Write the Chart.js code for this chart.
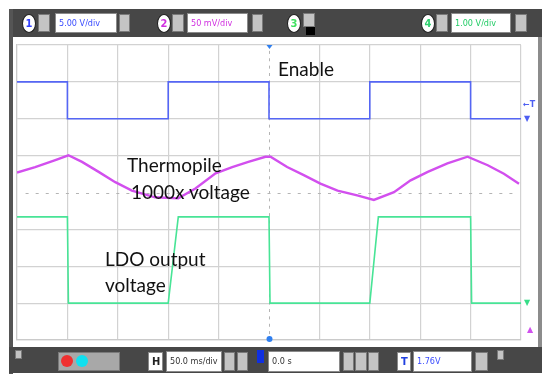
<!DOCTYPE html>
<html>
<head>
<meta charset="utf-8">
<script src="https://cdn.jsdelivr.net/npm/chart.js@4.4.1/dist/chart.umd.min.js"></script>
<style>
  html, body { margin:0; padding:0; background:#fff; }
  #wrap { position:relative; width:542px; height:374px; overflow:hidden; background:#fff; }
  #c { position:absolute; left:0; top:0; z-index:2; }
  .bar { position:absolute; background:#474747; z-index:1; }
  .badge { position:absolute; width:12px; height:17px; border-radius:50%; background:#fff; border:1px solid #1c1c1c;
           font:bold 11px "Liberation Sans Narrow","DejaVu Sans Condensed",sans-serif; text-align:center; line-height:17px; z-index:3; }
  .box { position:absolute; background:#fff; border:1px solid #8a8a8a; z-index:3;
         font:9px "Liberation Sans Narrow","DejaVu Sans Condensed",sans-serif; line-height:18px; padding-left:3px; box-sizing:border-box; white-space:nowrap; }
  .ico { position:absolute; background:#c4c4c4; border:1px solid #7a7a7a; z-index:3; box-sizing:border-box; }
  .note { position:absolute; z-index:4; font:19px Lato,"Open Sans",sans-serif; color:#111; line-height:19px; white-space:nowrap; }
  .mk { position:absolute; z-index:4; font:bold 8px "DejaVu Sans",sans-serif; white-space:nowrap; }
</style>
</head>
<body>
<div id="wrap">
  <!-- oscilloscope frame -->
  <div class="bar" style="left:9px;top:9px;width:533px;height:28px;"></div>
  <div class="bar" style="left:9px;top:9px;width:4px;height:365px;background:#555;"></div>
  <div class="bar" style="left:538px;top:37px;width:4px;height:310px;background:#8c8c8c;"></div>
  <div class="bar" style="left:9px;top:347px;width:533px;height:26px;"></div>

  <!-- top toolbar -->
  <div class="badge" style="left:22px;top:14px;color:#3340ff;">1</div>
  <div class="ico" style="left:38px;top:14px;width:12px;height:18px;"></div>
  <div class="box" style="left:55px;top:13px;width:62px;height:20px;color:#3a4cff;">5.00 V/div</div>
  <div class="ico" style="left:119px;top:14px;width:11px;height:18px;"></div>

  <div class="badge" style="left:157px;top:14px;color:#d030e0;">2</div>
  <div class="ico" style="left:172px;top:14px;width:12px;height:18px;"></div>
  <div class="box" style="left:187px;top:13px;width:61px;height:20px;color:#d030e0;">50 mV/div</div>
  <div class="ico" style="left:252px;top:14px;width:11px;height:18px;"></div>

  <div class="badge" style="left:287px;top:14px;color:#40e060;">3</div>
  <div class="ico" style="left:303px;top:13px;width:12px;height:14px;"></div>
  <div class="ico" style="left:306px;top:27px;width:9px;height:8px;background:#000;border-color:#000;"></div>

  <div class="badge" style="left:421px;top:14px;color:#30d070;">4</div>
  <div class="ico" style="left:436px;top:14px;width:12px;height:18px;"></div>
  <div class="box" style="left:451px;top:13px;width:60px;height:20px;color:#22cc66;">1.00 V/div</div>
  <div class="ico" style="left:515px;top:14px;width:12px;height:18px;"></div>

  <!-- bottom toolbar -->
  <div class="ico" style="left:15px;top:350px;width:7px;height:9px;"></div>
  <div class="ico" style="left:58px;top:352px;width:62px;height:19px;background:#a8a8a8;"></div>
  <div style="position:absolute;z-index:4;left:61px;top:355px;width:12px;height:12px;border-radius:50%;background:#f03030;"></div>
  <div style="position:absolute;z-index:4;left:76px;top:355px;width:12px;height:12px;border-radius:50%;background:#10e0f0;"></div>
  <div class="box" style="left:148px;top:352px;width:15px;height:19px;font-weight:bold;color:#222;font-size:11px;">H</div>
  <div class="box" style="left:166px;top:351px;width:56px;height:21px;color:#333;">50.0 ms/div</div>
  <div class="ico" style="left:224px;top:352px;width:11px;height:19px;"></div>
  <div class="ico" style="left:237px;top:352px;width:11px;height:19px;"></div>
  <div style="position:absolute;z-index:4;left:257px;top:350px;width:7px;height:13px;background:#1030e0;"></div>
  <div class="box" style="left:268px;top:351px;width:72px;height:21px;color:#333;">0.0 s</div>
  <div class="ico" style="left:343px;top:352px;width:11px;height:19px;"></div>
  <div class="ico" style="left:355px;top:352px;width:12px;height:19px;"></div>
  <div class="ico" style="left:368px;top:352px;width:11px;height:19px;"></div>
  <div class="box" style="left:397px;top:352px;width:14px;height:19px;font-weight:bold;color:#2040e0;font-size:11px;">T</div>
  <div class="box" style="left:413px;top:351px;width:59px;height:21px;color:#3a4cff;">1.76V</div>
  <div class="ico" style="left:475px;top:352px;width:13px;height:19px;"></div>
  <div class="ico" style="left:497px;top:350px;width:7px;height:10px;"></div>

  <!-- channel markers -->
  <div class="mk" style="left:523px;top:100px;color:#4d5ef2;">&#8592;T</div>
  <div class="mk" style="left:524px;top:114px;color:#4d5ef2;">&#9660;</div>
  <div class="mk" style="left:524px;top:298px;color:#38dd88;">&#9660;</div>
  <div class="mk" style="left:527px;top:325px;color:#d050ee;">&#9650;</div>

  <!-- annotations -->
  <div class="note" style="left:278px;top:59px;">Enable</div>
  <div class="note" style="left:127px;top:155px;">Thermopile</div>
  <div class="note" style="left:131px;top:182px;">1000x voltage</div>
  <div class="note" style="left:105px;top:249px;">LDO output</div>
  <div class="note" style="left:105px;top:275px;">voltage</div>

  <canvas id="c" width="542" height="374"></canvas>
</div>
<script>
// ---- data (x in divisions of 50 ms, y in divisions) ----
const enableX = [0, 1, 1, 3, 3, 5, 5, 7, 7, 9, 9, 10];
const enableY = [3, 3, 2, 2, 3, 3, 2, 2, 3, 3, 2, 2];

const thermoX = [0, 0.36, 0.76, 1.02, 1.29, 1.62, 1.95, 2.28, 2.74, 3.2, 3.54, 3.94, 4.27, 4.59, 4.93,
                 5.03, 5.36, 5.69, 6.02, 6.36, 6.75, 7.08, 7.48, 7.81, 8.15, 8.54, 8.94, 9.34, 9.66, 9.96];
const thermoY = [0.54, 0.69, 0.88, 1.01, 0.83, 0.56, 0.28, 0.05, -0.13, -0.16, 0.11, 0.52, 0.69, 0.83, 0.97,
                 0.97, 0.69, 0.47, 0.24, 0.05, -0.08, -0.2, 0.01, 0.33, 0.56, 0.79, 0.97, 0.74, 0.51, 0.24];

const ldoX = [0, 1, 1.02, 3, 3.2, 5, 5.02, 7, 7.17, 9, 9.02, 10];
const ldoY = [-0.66, -0.66, -3, -3, -0.66, -0.66, -3, -3, -0.66, -0.66, -3, -3];

const xDivs = [0, 10];
const yDivs = [-4, 4];

const pts = (xs, ys) => xs.map((x, i) => ({ x, y: ys[i] }));

const centerTicks = {
  id: 'centerTicks',
  beforeDatasetsDraw(chart) {
    const { ctx, scales: { x, y } } = chart;
    ctx.save();
    ctx.strokeStyle = '#b4b4b4';
    ctx.lineWidth = 1;
    const y0 = Math.round(y.getPixelForValue(0)) + 0.5;
    const x0 = Math.round(x.getPixelForValue(5)) + 0.5;
    ctx.beginPath();
    for (let i = 1; i < 50; i++) {
      const px = x.getPixelForValue(i * 0.2);
      ctx.moveTo(px - 1.5, y0); ctx.lineTo(px + 1.5, y0);
    }
    for (let i = 1; i < 40; i++) {
      const py = y.getPixelForValue(-4 + i * 0.2);
      ctx.moveTo(x0, py - 1.5); ctx.lineTo(x0, py + 1.5);
    }
    ctx.stroke();
    ctx.fillStyle = '#2f7ff0';
    const top = y.getPixelForValue(4), bot = y.getPixelForValue(-4);
    ctx.beginPath(); ctx.moveTo(x0 - 3, top); ctx.lineTo(x0 + 3, top); ctx.lineTo(x0, top + 4); ctx.fill();
    ctx.beginPath(); ctx.arc(x0, bot - 1, 3, 0, Math.PI * 2); ctx.fill();
    ctx.restore();
  }
};

const gridColor = (skip) => (c) => (c.tick && Math.abs(c.tick.value - skip) < 1e-9) ? 'rgba(0,0,0,0)' : '#d2d2d2';

new Chart(document.getElementById('c'), {
  type: 'scatter',
  data: {
    datasets: [
      { label: 'Enable', data: pts(enableX, enableY), showLine: true, borderColor: '#5566f4', borderWidth: 1.6, pointRadius: 0, tension: 0 },
      { label: 'Thermopile 1000x voltage', data: pts(thermoX, thermoY), showLine: true, borderColor: '#d24fee', borderWidth: 2.4, pointRadius: 0, tension: 0 },
      { label: 'LDO output voltage', data: pts(ldoX, ldoY), showLine: true, borderColor: '#48e496', borderWidth: 1.6, pointRadius: 0, tension: 0 }
    ]
  },
  options: {
    responsive: false,
    animation: false,
    layout: { padding: { left: 17, top: 45, right: 21, bottom: 34 } },
    plugins: { legend: { display: false }, tooltip: { enabled: false } },
    scales: {
      x: { type: 'linear', min: xDivs[0], max: xDivs[1],
           ticks: { display: false, stepSize: 1 },
           grid: { color: gridColor(5), lineWidth: 1.2, drawTicks: false },
           border: { display: true, color: '#cacaca', width: 1.2 } },
      y: { type: 'linear', min: yDivs[0], max: yDivs[1],
           ticks: { display: false, stepSize: 1 },
           grid: { color: gridColor(0), lineWidth: 1.2, drawTicks: false },
           border: { display: true, color: '#cacaca', width: 1.2 } }
    }
  },
  plugins: [centerTicks]
});
</script>
</body>
</html>
